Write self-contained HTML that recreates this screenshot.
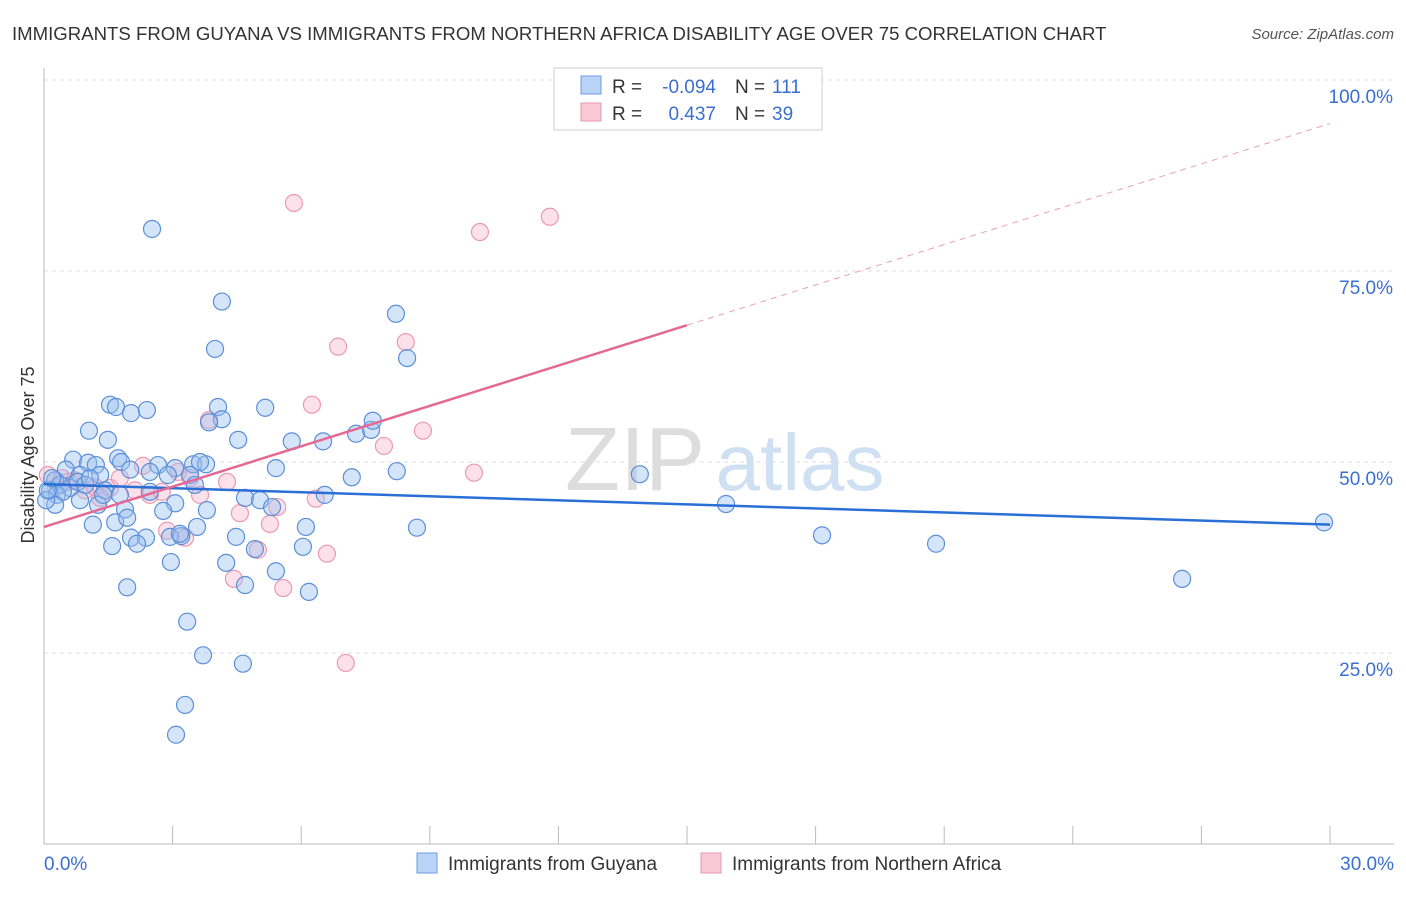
<!DOCTYPE html>
<html><head><meta charset="utf-8"><style>
body{margin:0;background:#fff;font-family:"Liberation Sans",sans-serif}
svg text{font-family:"Liberation Sans",sans-serif}
</style></head><body>
<svg id="c" width="1406" height="892">
<text x="12" y="40" font-size="18.6" fill="#333">IMMIGRANTS FROM GUYANA VS IMMIGRANTS FROM NORTHERN AFRICA DISABILITY AGE OVER 75 CORRELATION CHART</text>
<text x="1394" y="39" font-size="15" fill="#555" font-style="italic" text-anchor="end">Source: ZipAtlas.com</text>
<text x="34" y="455" font-size="18" fill="#333" text-anchor="middle" transform="rotate(-90 34 455)">Disability Age Over 75</text>
<g><text x="635" y="490" font-size="90" fill="#ddd" font-family="Liberation Serif" text-anchor="middle">ZIP</text><text x="800" y="490" font-size="80" fill="#cfe0f3" text-anchor="middle">atlas</text></g>
<g id="grid"></g><g id="axes"></g><g id="marks"></g>
<g>
<rect x="554" y="68" width="268" height="62" fill="#fff" stroke="#ccc"/>
<rect x="581" y="76" width="20" height="18" fill="#b8d3f5" stroke="#6b9de0"/>
<rect x="581" y="103" width="20" height="18" fill="#f8c8d6" stroke="#e898b0"/>
<g font-size="19" fill="#333">
<text x="612" y="93">R =</text><text x="716" y="93" text-anchor="end" fill="#3a6fd0">-0.094</text>
<text x="735" y="93">N =</text><text x="772" y="93" fill="#3a6fd0">111</text>
<text x="612" y="120">R =</text><text x="716" y="120" text-anchor="end" fill="#3a6fd0">0.437</text>
<text x="735" y="120">N =</text><text x="772" y="120" fill="#3a6fd0">39</text>
</g>
</g>
<g>
<rect x="417" y="853" width="20" height="20" fill="#b8d3f5" stroke="#6b9de0"/>
<text x="448" y="870" font-size="19" fill="#333">Immigrants from Guyana</text>
<rect x="701" y="853" width="20" height="20" fill="#f8c8d6" stroke="#e898b0"/>
<text x="732" y="870" font-size="19" fill="#333">Immigrants from Northern Africa</text>
</g>
</svg>
<script>
const yTicks=[25,50,75,100];
const yTickLabels=["25.0%","50.0%","75.0%","100.0%"];
const xTicks=[0,3,6,9,12,15,18,21,24,27,30];
const blueX=[2.52,4.15,3.99,8.21,8.47,1.54,1.68,2.03,2.40,4.06,4.15,5.16,3.85,1.05,1.49,4.53,5.78,6.51,7.28,7.63,7.67,0.68,1.03,1.21,1.73,1.80,2.66,3.06,3.48,3.78,5.41,7.18,8.23,13.90,0.51,0.84,1.31,2.01,2.47,2.89,3.41,3.52,0.26,0.37,0.61,0.79,0.96,0.14,0.30,0.44,1.42,1.77,2.47,3.06,4.69,5.04,5.32,6.55,0.26,0.84,1.26,1.89,2.78,3.80,15.91,1.14,1.66,1.94,3.57,6.11,8.70,2.03,2.38,2.94,3.20,4.48,4.92,6.04,18.15,20.81,1.59,2.17,2.96,4.25,5.41,1.94,4.69,6.18,26.55,29.86,3.34,3.71,4.64,3.29,3.08,0.05,0.09,0.19,3.17,3.64,1.07,1.38];
const blueY=[80.5,71.0,64.8,69.4,63.6,57.5,57.2,56.4,56.8,57.2,55.6,57.1,55.2,54.1,52.9,52.9,52.7,52.7,53.7,54.2,55.4,50.3,49.9,49.6,50.5,50.0,49.6,49.2,49.7,49.7,49.2,48.0,48.8,48.4,49.0,48.3,48.3,49.0,48.7,48.3,48.3,47.0,47.6,47.0,46.6,47.4,47.0,46.3,45.7,46.1,46.3,45.7,46.1,44.6,45.3,45.0,44.1,45.7,44.4,45.0,44.4,43.8,43.6,43.7,44.5,41.8,42.1,42.7,41.5,41.5,41.4,40.1,40.1,40.2,40.3,40.2,38.6,38.9,40.4,39.3,39.0,39.3,36.9,36.8,35.7,33.6,33.9,33.0,34.7,42.1,29.1,24.7,23.6,18.2,14.3,45.0,46.3,47.9,40.6,50.0,47.9,45.7];
const pinkX=[5.83,10.17,11.80,6.86,8.44,6.25,3.85,8.84,7.93,10.03,2.31,3.13,3.41,4.27,0.09,0.42,0.72,0.96,1.19,1.54,2.12,2.47,2.75,3.64,4.57,5.44,6.34,5.27,2.87,3.29,4.99,6.60,4.43,5.58,7.04,0.28,0.56,1.31,1.77];
const pinkY=[83.9,80.1,82.1,65.1,65.7,57.5,55.5,54.1,52.1,48.6,49.5,48.7,47.9,47.4,48.3,47.9,47.6,46.3,46.7,46.6,46.3,45.7,46.1,45.7,43.3,44.1,45.2,41.9,41.0,40.1,38.5,38.0,34.7,33.5,23.7,46.7,47.4,45.3,47.9];
const blueFit=[47.1,41.8]; // y at x=0, x=30
const pinkFit=[41.5,94.3];
const X=v=>44+v*(1286/30), Y=v=>844-v*7.64;
const NS="http://www.w3.org/2000/svg";
function mk(p,t,a){const e=document.createElementNS(NS,t);for(const k in a)e.setAttribute(k,a[k]);p.appendChild(e);return e;}
const grid=document.getElementById('grid'),axes=document.getElementById('axes'),marks=document.getElementById('marks');
yTicks.forEach((t,i)=>{
 const l=mk(grid,'line',{x1:44,x2:1394,y1:Y(t),y2:Y(t),stroke:'#ddd','stroke-dasharray':'4,4'});
 
 
 const tx=mk(axes,'text',{x:1393,y:Y(t)+23,'font-size':19,fill:'#3a6fd0','text-anchor':'end'});
 tx.textContent=yTickLabels[i];
 
 
});
const tl=mk(grid,'line',{x1:44,x2:1394,y1:80,y2:80,stroke:'#ddd','stroke-dasharray':'4,4'});


const ya=mk(axes,'line',{x1:44,x2:44,y1:68,y2:844,stroke:'#bbb'});


const xa=mk(axes,'line',{x1:44,x2:1394,y1:844,y2:844,stroke:'#bbb'});


xTicks.forEach(t=>{const l=mk(axes,'line',{x1:X(t),x2:X(t),y1:826,y2:844,stroke:'#bbb'});
 
 });
[[0,"0.0%",'start',44],[30,"30.0%",'end',1394]].forEach(d=>{const t=mk(axes,'text',{x:d[3],y:870,'font-size':19,fill:'#3a6fd0','text-anchor':d[2]});t.textContent=d[1];
 
 });
pinkX.forEach((v,i)=>{const c=mk(marks,'circle',{cx:X(v),cy:Y(pinkY[i]),r:8.5,fill:'rgba(245,170,195,0.35)',stroke:'#eb9ab3','stroke-width':1.2});
 
 });
blueX.forEach((v,i)=>{const c=mk(marks,'circle',{cx:X(v),cy:Y(blueY[i]),r:8.5,fill:'rgba(150,190,240,0.4)',stroke:'#5b8fd8','stroke-width':1.2});
 
 });
const bl=mk(marks,'line',{x1:X(0),y1:Y(blueFit[0]),x2:X(30),y2:Y(blueFit[1]),stroke:'#2a6fd6','stroke-width':2.5});


const pm=pinkFit[0]+(pinkFit[1]-pinkFit[0])/2;
const pl=mk(marks,'line',{x1:X(0),y1:Y(pinkFit[0]),x2:X(15),y2:Y(pm),stroke:'#e46a95','stroke-width':2.5});


const pd=mk(marks,'line',{x1:X(15),y1:Y(pm),x2:X(30),y2:Y(pinkFit[1]),stroke:'#eaa0b8','stroke-width':1,'stroke-dasharray':'6,5'});


</script>
</body></html>
